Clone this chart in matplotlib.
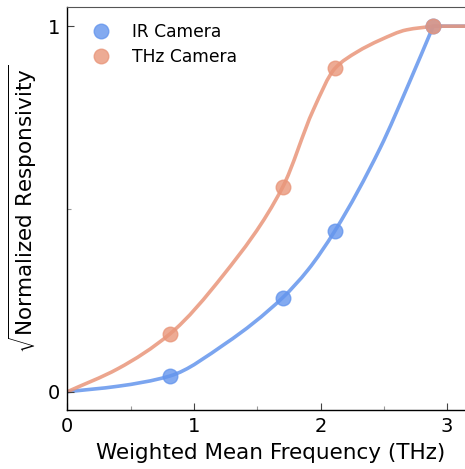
import matplotlib

matplotlib.use("Agg")
import matplotlib.pyplot as plt
import numpy as np
from matplotlib.patches import PathPatch
from matplotlib.path import Path

# measured points
freq_pts = [0.81, 1.70, 2.115, 2.89]
ir_pts = [0.043, 0.257, 0.441, 1.0]
thz_pts = [0.158, 0.559, 0.885, 1.0]

# fitted curves (rising part, then flat at 1)
ir_curve_x = [0, 0.40, 0.81, 1.25, 1.70, 1.90, 2.115, 2.47, 2.70, 2.89]
ir_curve_y = [0, 0.015, 0.043, 0.132, 0.257, 0.333, 0.441, 0.666, 0.845, 1.0]

thz_curve_x = [0, 0.40, 0.81, 1.232, 1.70, 1.943, 2.115, 2.286, 2.47, 2.68, 2.89]
thz_curve_y = [0, 0.063, 0.158, 0.319, 0.559, 0.771, 0.885, 0.929, 0.962, 0.990, 1.0]

flat_x = [2.89, 3.3]
flat_y = [1.0, 1.0]

blue = "#6495ED"
salmon = "#E9967A"


def smooth_path(x, y):
    # monotone cubic (Fritsch-Carlson tangents) drawn as bezier segments
    x = np.asarray(x, float)
    y = np.asarray(y, float)
    h = np.diff(x)
    d = np.diff(y) / h
    m = np.empty_like(x)
    m[0] = d[0]
    m[-1] = d[-1]
    for k in range(1, len(x) - 1):
        if d[k - 1] * d[k] <= 0:
            m[k] = 0.0
        else:
            w1 = 2 * h[k] + h[k - 1]
            w2 = h[k] + 2 * h[k - 1]
            m[k] = (w1 + w2) / (w1 / d[k - 1] + w2 / d[k])
    verts = [(x[0], y[0])]
    codes = [Path.MOVETO]
    for k in range(len(x) - 1):
        verts += [(x[k] + h[k] / 3, y[k] + m[k] * h[k] / 3),
                  (x[k + 1] - h[k] / 3, y[k + 1] - m[k + 1] * h[k] / 3),
                  (x[k + 1], y[k + 1])]
        codes += [Path.CURVE4] * 3
    verts += [(flat_x[1], flat_y[1])]
    codes += [Path.LINETO]
    return Path(verts, codes)


plt.rcParams["mathtext.fontset"] = "dejavusans"

fig = plt.figure(figsize=(4.65, 4.69), dpi=100)
ax = fig.add_axes([67.3 / 465, 59 / 469, (465 - 67.3) / 465, 403 / 469])

for cx, cy, col in [(ir_curve_x, ir_curve_y, blue), (thz_curve_x, thz_curve_y, salmon)]:
    ax.add_patch(PathPatch(smooth_path(cx, cy), facecolor="none", edgecolor=col,
                           lw=2.6, alpha=0.85, joinstyle="round", capstyle="butt"))

ax.plot(freq_pts, ir_pts, "o", color=blue, ms=10.5, alpha=0.8, mec=blue, label="IR Camera")
ax.plot(freq_pts, thz_pts, "o", color=salmon, ms=10.5, alpha=0.8, mec=salmon, label="THz Camera")

ax.set_xlim(0, 3.141)
ax.set_ylim(-0.05, 1.0525)
ax.set_xticks([0, 1, 2, 3])
ax.set_xticks([0.5, 1.5, 2.5], minor=True)
ax.set_yticks([0, 1])
ax.set_yticks([0.5], minor=True)
ax.tick_params(which="major", direction="in", length=5, width=0.8, color="#444444",
               labelsize=14, pad=5)
ax.tick_params(which="minor", direction="in", length=3, width=0.8, color="#999999")

ax.spines["right"].set_visible(False)
ax.spines["top"].set_color("#555555")
ax.spines["top"].set_linewidth(0.8)
ax.spines["left"].set_linewidth(1.0)
ax.spines["bottom"].set_linewidth(1.0)

ax.set_xlabel("Weighted Mean Frequency (THz)", fontsize=15.5)
ax.xaxis.set_label_coords(0.51, -0.083)
ax.set_ylabel(r"$\sqrt{\rm Normalized\ Responsivity}$", fontsize=15.5)
ax.yaxis.set_label_coords(-0.072, 0.5)

ax.legend(loc="upper left", frameon=False, fontsize=12.3, handletextpad=0.8,
          labelspacing=0.42, borderaxespad=0.3, bbox_to_anchor=(0.012, 0.99))

fig.savefig("out.png", dpi=100)
